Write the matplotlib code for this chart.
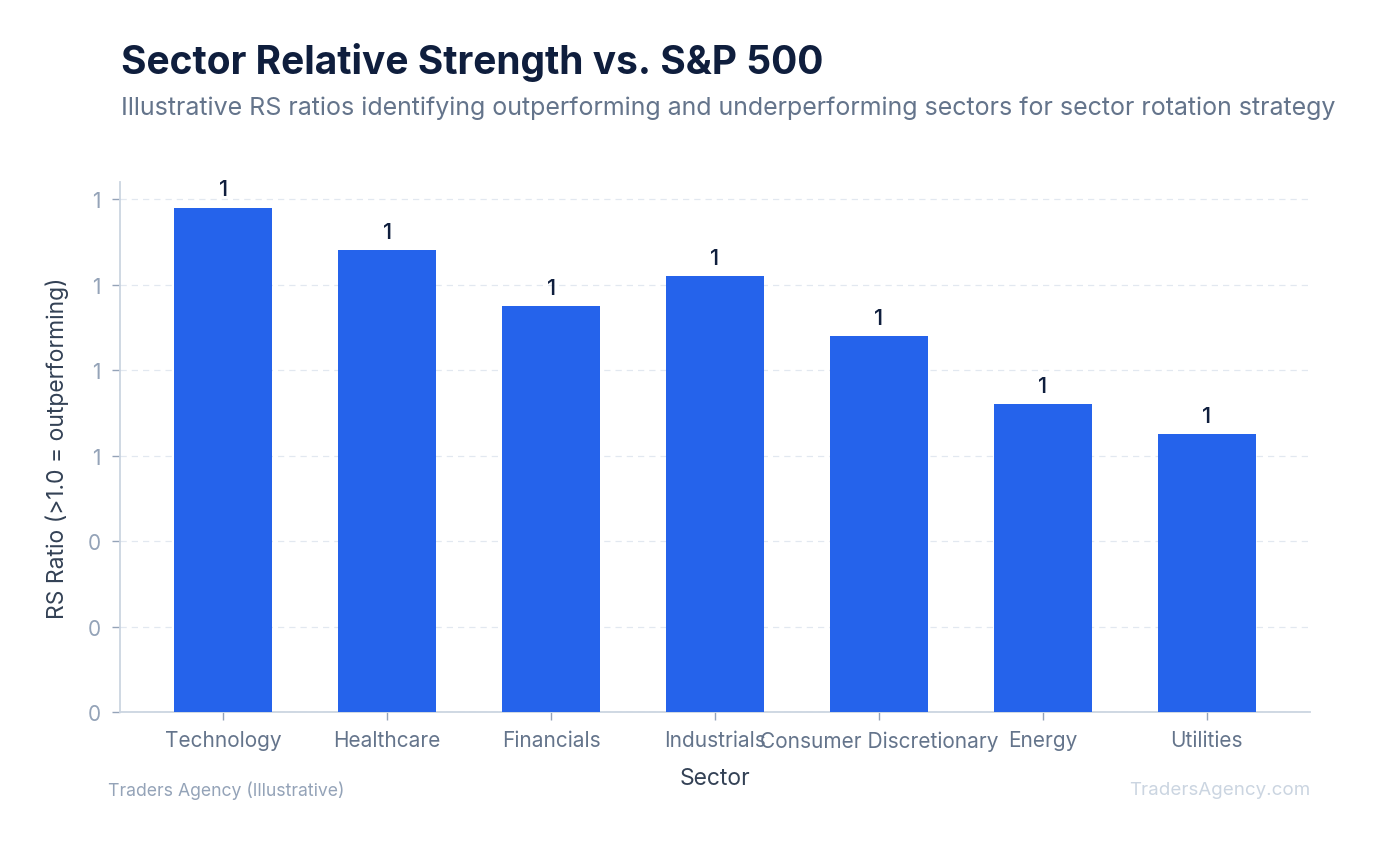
import matplotlib
matplotlib.use("Agg")
import matplotlib.pyplot as plt
from matplotlib.ticker import FormatStrFormatter

plt.rcParams['font.family'] = ['Inter', 'DejaVu Sans']

sectors = ["Technology", "Healthcare", "Financials", "Industrials",
           "Consumer Discretionary", "Energy", "Utilities"]
rs_ratio = [1.18, 1.08, 0.95, 1.02, 0.88, 0.72, 0.65]
y_ticks = [0.0, 0.2, 0.4, 0.6, 0.8, 1.0, 1.2]

fig = plt.figure(figsize=(13.8, 8.45), dpi=100)
ax = fig.add_axes([120/1380, 1-713/845, (1310-120)/1380, (713-183)/845])

x = range(len(sectors))
bars = ax.bar(x, rs_ratio, width=0.6, color="#2563eb", zorder=3)
for xi, v in zip(x, rs_ratio):
    ax.annotate(f"{v:.0f}", (xi, v), xytext=(0, 6), textcoords="offset points",
                ha="center", va="bottom", fontsize=16, color="#0f1e3d", fontweight="medium")

ax.set_ylim(0, 1.24)
ax.set_yticks(y_ticks)
ax.yaxis.set_major_formatter(FormatStrFormatter("%.0f"))
ax.set_xticks(list(x))
ax.set_xticklabels(sectors)
ax.grid(axis="y", color="#e2e8f0", linestyle=(0, (5, 4)), linewidth=0.9, zorder=0)
ax.set_axisbelow(True)

for s in ["top", "right"]:
    ax.spines[s].set_visible(False)
for s in ["left", "bottom"]:
    ax.spines[s].set_color("#cbd5e1")
    ax.spines[s].set_linewidth(1.3)

ax.tick_params(axis="y", colors="#94a3b8", labelsize=15, length=6, width=1, pad=8)
ax.tick_params(axis="x", colors="#94a3b8", labelcolor="#64748b", labelsize=15, length=6, width=1, pad=7)

ax.set_ylabel("RS Ratio (>1.0 = outperforming)", fontsize=16.5, color="#334155", labelpad=13)
ax.set_xlabel("Sector", fontsize=16.5, color="#334155", labelpad=12)

fig.text(121/1380, 1-62/845, "Sector Relative Strength vs. S&P 500", fontsize=28,
         fontweight="bold", color="#0f1e3d", va="center", ha="left")
fig.text(121/1380, 1-108/845, "Illustrative RS ratios identifying outperforming and underperforming sectors for sector rotation strategy",
         fontsize=18, color="#64748b", va="center", ha="left")
fig.text(108/1380, 1-791/845, "Traders Agency (Illustrative)", fontsize=12.7,
         color="#94a3b8", va="center", ha="left")
fig.text(1310/1380, 1-791/845, "TradersAgency.com", fontsize=13.5,
         color="#cbd5e1", va="center", ha="right")

fig.savefig("out.png", dpi=100)
